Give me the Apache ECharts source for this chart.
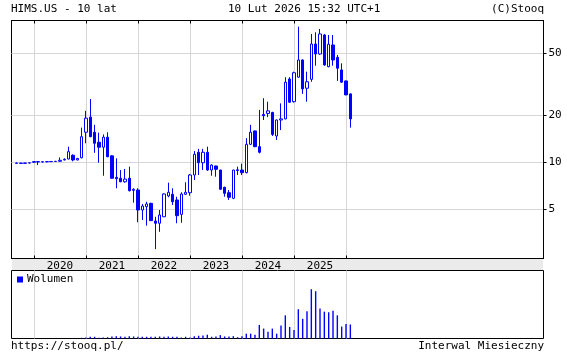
<!DOCTYPE html>
<html><head><meta charset="utf-8">
<script src="https://cdn.jsdelivr.net/npm/echarts@6/dist/echarts.min.js"></script>
<style>html,body{margin:0;padding:0;background:#fff}#c{width:567px;height:359px}</style>
</head><body><div id="c"></div>
<script>
// ---- data (monthly candles, HIMS.US) ----
const months = [
  '2019-09','2019-10','2019-11','2019-12',
  '2020-01','2020-02','2020-03','2020-04','2020-05','2020-06','2020-07','2020-08','2020-09','2020-10','2020-11','2020-12',
  '2021-01','2021-02','2021-03','2021-04','2021-05','2021-06','2021-07','2021-08','2021-09','2021-10','2021-11','2021-12',
  '2022-01','2022-02','2022-03','2022-04','2022-05','2022-06','2022-07','2022-08','2022-09','2022-10','2022-11','2022-12',
  '2023-01','2023-02','2023-03','2023-04','2023-05','2023-06','2023-07','2023-08','2023-09','2023-10','2023-11','2023-12',
  '2024-01','2024-02','2024-03','2024-04','2024-05','2024-06','2024-07','2024-08','2024-09','2024-10','2024-11','2024-12',
  '2025-01','2025-02','2025-03','2025-04','2025-05','2025-06','2025-07','2025-08','2025-09','2025-10','2025-11','2025-12',
  '2026-01','2026-02'
];
const opens = [
  9.85,9.88,9.85,9.9,
  10.0,10.1,10.05,10.08,10.1,10.12,10.15,10.35,10.5,11.1,10.35,10.7,
  15.6,19.5,15.6,13.45,12.5,14.5,11.0,8.0,7.9,7.5,7.9,6.6,
  6.64,4.94,5.19,5.45,4.2,4.06,4.47,6.08,6.23,5.73,4.63,6.23,
  6.38,8.29,11.6,9.94,11.6,8.92,9.47,8.92,6.91,6.38,5.87,8.95,
  8.92,8.58,13.05,15.9,12.6,20.3,20.6,20.9,14.75,18.7,19.0,34.3,
  24.5,35.2,45.4,29.9,34.1,57.5,49.6,65.7,41.1,56.7,47.2,39.2,
  33.3,27.5
];
const closes = [
  9.9,9.85,9.9,9.92,
  10.1,10.05,10.08,10.1,10.12,10.15,10.3,10.45,11.7,10.35,10.6,14.6,
  19.2,14.6,13.25,12.5,14.5,10.85,7.9,7.85,7.5,7.8,6.57,6.71,
  4.94,5.24,5.4,4.22,4.06,4.59,6.26,6.42,5.58,4.54,6.26,6.42,
  8.29,11.25,9.94,11.6,8.92,9.6,9.02,6.71,6.32,5.96,8.92,8.85,
  8.58,13.05,15.6,12.6,11.6,19.9,21.4,15.1,18.7,19.0,32.7,24.3,
  37.6,45.4,29.6,32.9,57.5,49.6,66.7,42.2,57.3,45.4,40.2,32.7,
  27.1,19.0
];
const lows = [
  9.8,9.8,9.82,9.85,
  9.95,9.6,9.95,10.0,10.05,10.05,10.1,10.3,10.45,10.15,10.3,10.6,
  13.25,14.5,11.5,9.94,8.2,10.8,7.85,6.81,7.45,7.4,6.5,5.5,
  4.12,4.26,3.92,4.2,2.77,3.58,4.45,5.96,5.32,4.06,4.09,6.17,
  6.1,7.7,8.29,8.92,8.83,8.2,8.08,6.65,6.01,5.73,5.8,8.29,
  8.29,8.5,12.9,12.5,11.4,18.7,19.5,14.75,13.9,16.1,18.9,24.2,
  24.2,35.0,27.5,24.5,32.9,41.7,49.0,41.7,40.8,41.7,33.3,32.4,
  27.0,16.7
];
const highs = [
  9.95,9.9,9.92,9.95,
  10.15,10.15,10.12,10.15,10.18,10.2,10.75,10.6,12.6,11.25,10.65,16.7,
  21.4,25.5,17.4,15.5,15.1,15.6,11.1,10.6,8.92,9.06,9.37,6.81,
  6.81,5.4,5.58,5.5,4.47,4.94,6.32,7.4,6.81,6.01,6.42,7.44,
  8.41,11.8,12.2,12.2,12.6,9.7,9.5,8.95,6.97,6.64,8.95,9.37,
  9.8,14.3,17.4,16.0,21.7,25.8,24.5,21.1,18.8,23.9,35.2,35.2,
  38.2,74.3,45.8,38.2,66.7,68.4,71.8,66.7,65.7,65.7,48.9,43.2,
  33.5,27.7
];
// monthly volume, millions of shares (estimated)
const volumes = [
  0.2,0.2,0.2,0.2,
  0.2,0.2,0.2,0.2,0.2,0.2,0.2,0.2,0.2,3,1,7,
  10,17,17,7,10,13,20,23,20,17,23,20,
  17,17,17,17,17,20,17,20,17,17,10,17,
  10,23,27,30,37,17,20,33,20,20,23,13,
  23,47,47,37,133,97,67,97,47,127,227,113,
  83,287,193,267,483,463,293,263,257,273,227,117,
  143,137
];
const yearLabels = ['2020','2021','2022','2023','2024','2025'];
const gridYears = ['2020','2021','2022','2023','2024','2025','2026'];
const priceTicks = [5,10,20,50];

// ---- layout / styling ----
const FONT = "'DejaVu Sans Mono', monospace";
const BLUE = '#0000ff';
const GRIDC = '#d6d6d6';
const janIdx = gridYears.map(y => months.indexOf(y + '-01'));
const julIdx = yearLabels.map(y => months.indexOf(y + '-07'));
const X_MIN = -1.17, X_MAX = 121.56;

const candleData = months.map((m, i) => [i, opens[i], closes[i], lows[i], highs[i]]);
const volData = months.map((m, i) => [i, volumes[i]]);

const txt = {fontSize: 11, fontFamily: FONT, fontWeight: 'normal', color: '#000'};
const chart = echarts.init(document.getElementById('c'), null, {renderer: 'canvas'});
chart.setOption({
  animation: false,
  backgroundColor: '#ffffff',
  textStyle: {fontFamily: FONT},
  title: [
    {text: 'HIMS.US - 10 lat', left: 11, top: 4, padding: 0, textStyle: txt},
    {text: '10 Lut 2026 15:32 UTC+1', left: 228, top: 4, padding: 0, textStyle: txt},
    {text: '(C)Stooq', right: 23, top: 4, padding: 0, textStyle: txt},
    {text: 'https://stooq.pl/', left: 11, top: 341, padding: 0, textStyle: txt},
    {text: 'Interwal Miesieczny', right: 23, top: 341, padding: 0, textStyle: txt}
  ],
  legend: {
    data: ['Wolumen'], left: 17, top: 274, padding: 0, icon: 'rect',
    itemWidth: 6, itemHeight: 6, selectedMode: false,
    textStyle: {fontSize: 11, fontFamily: FONT, color: '#000', padding: [0, 0, 0, -1]}
  },
  grid: [
    {left: 11.5, right: 23.5, top: 20.5, height: 238, show: true, borderColor: '#000', borderWidth: 1, backgroundColor: '#fff'},
    {left: 12, right: 24, top: 259, height: 11, show: true, borderWidth: 0, borderColor: 'transparent', backgroundColor: '#ebebeb'},
    {left: 11.5, right: 23.5, top: 270.5, height: 68, show: true, borderColor: '#000', borderWidth: 1, backgroundColor: '#fff'}
  ],
  xAxis: [
    {type: 'value', gridIndex: 0, position: 'bottom', min: X_MIN, max: X_MAX,
     axisLine: {show: true, onZero: false, lineStyle: {color: '#000', width: 1}},
     axisTick: {show: true, inside: true, length: 3, customValues: janIdx, lineStyle: {color: '#000'}},
     splitLine: {show: true, lineStyle: {color: GRIDC, width: 1}},
     axisLabel: {show: true, customValues: julIdx, margin: 2, fontSize: 11, fontFamily: FONT, color: '#000',
       formatter: v => yearLabels[julIdx.indexOf(Math.round(v))] || ''}},
    {type: 'value', gridIndex: 0, position: 'top', min: X_MIN, max: X_MAX,
     axisLine: {show: true, onZero: false, lineStyle: {color: '#000'}},
     axisTick: {show: true, inside: true, length: 3, customValues: janIdx, lineStyle: {color: '#000'}},
     splitLine: {show: false}, axisLabel: {show: false}},
    {type: 'value', gridIndex: 1, min: X_MIN, max: X_MAX, show: false},
    {type: 'value', gridIndex: 2, min: X_MIN, max: X_MAX,
     axisLine: {show: false, onZero: false}, axisLabel: {show: false},
     axisTick: {show: false, customValues: janIdx},
     splitLine: {show: true, lineStyle: {color: GRIDC, width: 1}}}
  ],
  yAxis: [
    {type: 'log', logBase: 10, gridIndex: 0, position: 'right', min: 2.411, max: 81.4,
     axisLine: {show: true, onZero: false, lineStyle: {color: '#000'}},
     axisTick: {show: true, inside: false, length: 3, customValues: priceTicks, lineStyle: {color: '#000'}},
     axisLabel: {show: true, customValues: priceTicks, margin: 5, fontSize: 11, fontFamily: FONT, color: '#000'},
     splitLine: {show: true, lineStyle: {color: GRIDC, width: 1}}},
    {type: 'value', gridIndex: 1, show: false, min: 0, max: 1, axisLine: {onZero: false}},
    {type: 'value', gridIndex: 2, min: 0, max: 666, show: false, axisLine: {show: false, onZero: false}, splitLine: {show: false}}
  ],
  series: [
    {type: 'candlestick', name: 'HIMS.US', xAxisIndex: 0, yAxisIndex: 0, data: candleData,
     barWidth: 3,
     itemStyle: {color: '#ffffff', color0: BLUE, borderColor: BLUE, borderColor0: BLUE, borderWidth: 1}},
    {type: 'bar', name: 'Wolumen', xAxisIndex: 3, yAxisIndex: 2, data: volData,
     barWidth: 1.4, itemStyle: {color: BLUE}}
  ]
});
</script></body></html>
